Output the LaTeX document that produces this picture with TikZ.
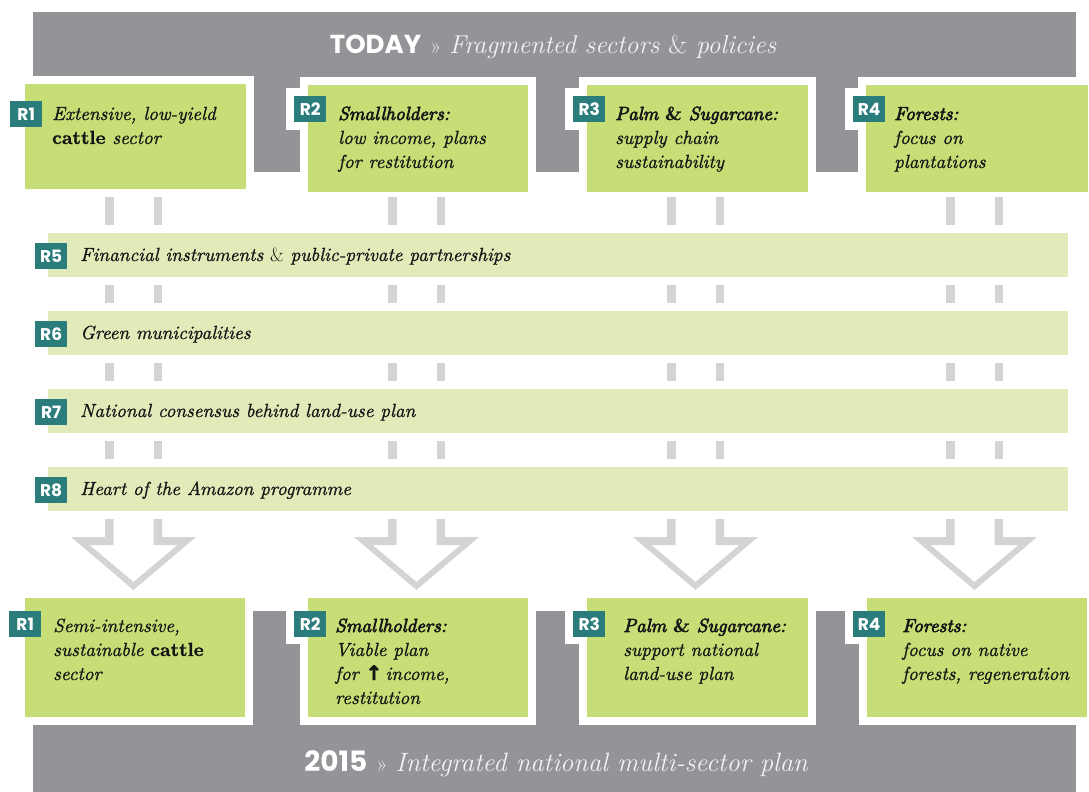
\documentclass[tikz,border=0pt]{standalone}
\usepackage{fontspec}
\newfontfamily\tagfont{Poppins}
\newfontfamily\arrowfont{DejaVu Sans}[BoldFeatures={FakeBold=2}]
\newfontface\bodyit{lmroman10-italic.otf}[FakeBold=0.9]
\newfontface\headit{lmroman10-italic.otf}[FakeBold=3.4]
\newfontface\uprbf{lmroman10-bold.otf}[FakeBold=1.2]
\definecolor{bannergray}{HTML}{939498}
\definecolor{boxgreen}{HTML}{C7DD75}
\definecolor{bargreen}{HTML}{E1EBB9}
\definecolor{tealtag}{HTML}{2A7D7A}
\definecolor{conngray}{HTML}{D3D4D6}
\definecolor{ink}{HTML}{151515}
\definecolor{lighttext}{HTML}{F3F3F3}
\newcommand{\ml}[1]{\begin{tabular}[t]{@{}l@{}}#1\end{tabular}}
\newcommand{\bup}[1]{{\uprbf #1}}
\newcommand{\hd}[1]{{\headit #1}}
\newcommand{\amp}{{\normalfont\&}}
\newcommand{\bamp}{{\uprbf\&}}
\tikzset{
  greenbox/.style={fill=boxgreen, anchor=north west, inner sep=0, draw=none},
  barbox/.style={fill=bargreen, anchor=north west, inner sep=0, minimum width=1020pt, minimum height=44pt},
  boxtext/.style={anchor=base west, inner sep=0, text=ink, font=\fontsize{19}{24}\selectfont\bodyit},
  tagbox/.style={fill=tealtag, text=white, minimum width=32pt, minimum height=26pt, inner sep=0, anchor=north west, font=\tagfont\bfseries\fontsize{17}{17}\selectfont},
  conn/.style={fill=conngray},
  frame/.style={fill=white},
}
\begin{document}
\begin{tikzpicture}[x=1pt,y=-1pt]
\useasboundingbox (0,0) rectangle (1089,792);
% grey banners
\fill[bannergray] (33,12) rectangle (1076,172);
\fill[bannergray] (33,611) rectangle (1076,792);
% white frames around boxes
\fill[frame] (17,76) rectangle (254,197);
\fill[frame] (300,77) rectangle (536,200);
\fill[frame] (579,77) rectangle (816,200);
\fill[frame] (858,77) rectangle (1096,200);
\fill[frame] (17,590) rectangle (253,725);
\fill[frame] (300,590) rectangle (536,725);
\fill[frame] (579,590) rectangle (816,725);
\fill[frame] (859,590) rectangle (1095,725);
% white frames around tags
\fill[frame] (2,93) rectangle (50,135);
\fill[frame] (286,88) rectangle (333,130);
\fill[frame] (565,88) rectangle (612,130);
\fill[frame] (845,88) rectangle (893,130);
\fill[frame] (1,603) rectangle (49,644);
\fill[frame] (286,603) rectangle (333,644);
\fill[frame] (565,603) rectangle (613,644);
\fill[frame] (845,603) rectangle (893,644);
% green boxes
\node[greenbox, minimum width=221pt, minimum height=105pt] (t1) at (25,84) {};
\node[greenbox, minimum width=220pt, minimum height=107pt] (t2) at (308,85) {};
\node[greenbox, minimum width=221pt, minimum height=107pt] (t3) at (587,85) {};
\node[greenbox, minimum width=222pt, minimum height=107pt] (t4) at (866,85) {};
\node[greenbox, minimum width=220pt, minimum height=119pt] (b1) at (25,598) {};
\node[greenbox, minimum width=220pt, minimum height=119pt] (b2) at (308,598) {};
\node[greenbox, minimum width=221pt, minimum height=119pt] (b3) at (587,598) {};
\node[greenbox, minimum width=220pt, minimum height=119pt] (b4) at (867,598) {};
% bars
\node[barbox] (r5) at (48,233) {};
\node[barbox] (r6) at (48,311) {};
\node[barbox] (r7) at (48,389) {};
\node[barbox] (r8) at (48,467) {};
% connectors and arrows
\foreach \c in {133.5,416.5,695.5,974.5}{
  \foreach \ya/\yb in {197/225,285/303,363/381,441/459}{
    \fill[conn] (\c-28.5,\ya) rectangle (\c-20,\yb);
    \fill[conn] (\c+20,\ya) rectangle (\c+28.5,\yb);
  }
  \fill[conn] (\c-28.5,519) -- (\c-28.5,537) -- (\c-62.5,537) -- (\c,590) -- (\c+62.5,537)
    -- (\c+28.5,537) -- (\c+28.5,519) -- (\c+20,519) -- (\c+20,545) -- (\c+44,545)
    -- (\c,582) -- (\c-44,545) -- (\c-20,545) -- (\c-20,519) -- cycle;
}
% tags
\node[tagbox] (tag1) at (10,101) {R1};
\node[tagbox] (tag2) at (294,96) {R2};
\node[tagbox] (tag3) at (573,96) {R3};
\node[tagbox] (tag4) at (853,96) {R4};
\node[tagbox] (tag5) at (35,243) {R5};
\node[tagbox] (tag6) at (35,321) {R6};
\node[tagbox] (tag7) at (35,399) {R7};
\node[tagbox] (tag8) at (35,477) {R8};
\node[tagbox] (btag1) at (9,611) {R1};
\node[tagbox] (btag2) at (294,611) {R2};
\node[tagbox] (btag3) at (573,611) {R3};
\node[tagbox] (btag4) at (853,611) {R4};
% texts top
\node[boxtext] (tt1) at (52,120) {\ml{Extensive, low-yield\\ \bup{cattle} sector}};
\node[boxtext] (tt2) at (338,120) {\ml{\hd{Smallholders:}\\ low income, plans\\ for restitution}};
\node[boxtext] (tt3) at (615,120) {\ml{\hd{Palm \bamp{} Sugarcane:}\\ supply chain\\ sustainability}};
\node[boxtext] (tt4) at (894,120) {\ml{\hd{Forests:}\\ focus on\\ plantations}};
% bar texts
\node[boxtext] (rt5) at (80,261) {Financial instruments \amp{} public-private partnerships};
\node[boxtext] (rt6) at (80,339) {Green municipalities};
\node[boxtext] (rt7) at (80,417) {National consensus behind land-use plan};
\node[boxtext] (rt8) at (80,495) {Heart of the Amazon programme};
% texts bottom
\node[boxtext] (bt1) at (53,632) {\ml{Semi-intensive,\\ sustainable \bup{cattle}\\ sector}};
\node[boxtext] (bt2) at (335,632) {\ml{\hd{Smallholders:}\\ Viable plan\\ for {\arrowfont\bfseries\fontsize{20}{20}\selectfont ↑}\,income,\\ restitution}};
\node[boxtext] (bt3) at (623,632) {\ml{\hd{Palm \bamp{} Sugarcane:}\\ support national\\ land-use plan}};
\node[boxtext] (bt4) at (902,632) {\ml{\hd{Forests:}\\ focus on native\\ forests, regeneration}};
% banner titles
\node[anchor=base, inner sep=0] (today) at (553,54) {{\tagfont\bfseries\fontsize{26}{26}\selectfont\color{white}TODAY}\hspace{9pt}{\fontsize{22}{22}\selectfont\color{lighttext}»}\hspace{8pt}{\fontsize{25.8}{26}\selectfont\itshape\color{lighttext}Fragmented sectors \amp{} policies}};
\node[anchor=base, inner sep=0] (y2015) at (556,771) {{\tagfont\bfseries\fontsize{28}{28}\selectfont\color{white}2015}\hspace{9pt}{\fontsize{22}{22}\selectfont\color{lighttext}»}\hspace{8pt}{\fontsize{26.5}{27}\selectfont\itshape\color{lighttext}Integrated national multi-sector plan}};
\end{tikzpicture}
\end{document}
